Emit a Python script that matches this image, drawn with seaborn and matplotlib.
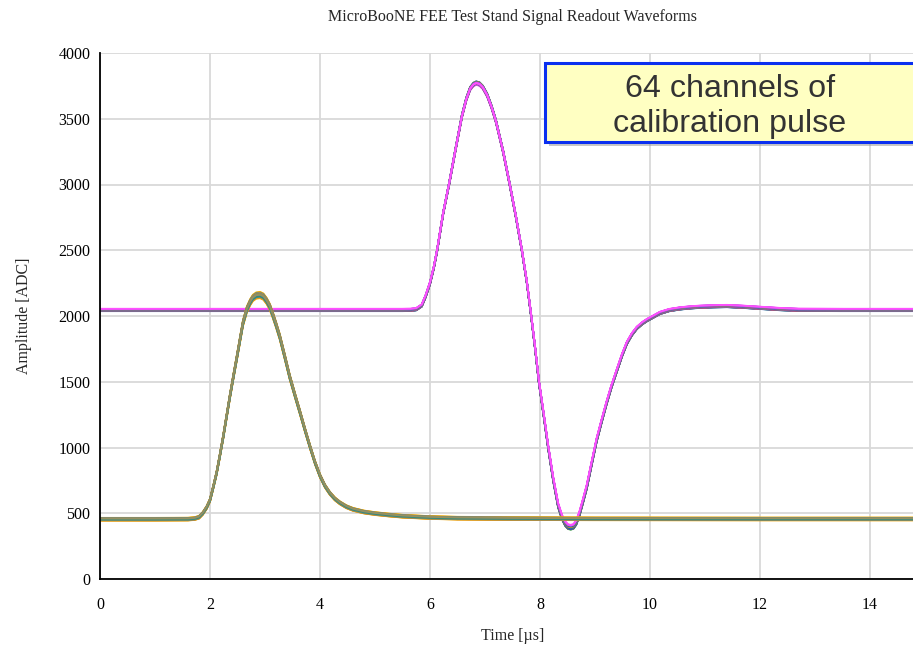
import numpy as np
import pandas as pd
import seaborn as sns
import matplotlib
matplotlib.use("Agg")
import matplotlib.pyplot as plt
from matplotlib.patches import Rectangle

# Averaged calibration-pulse waveform of the high-baseline channel group (time in us, ADC counts)
t_high = [0.0, 2.0, 4.0, 5.5, 5.65, 5.75, 5.85, 5.92, 6.0, 6.07, 6.13, 6.24, 6.35, 6.47, 6.58,
          6.66, 6.73, 6.79, 6.84, 6.9, 6.96, 7.04, 7.12, 7.2, 7.33, 7.45, 7.56, 7.67, 7.76,
          7.84, 7.91, 7.98, 8.07, 8.15, 8.24, 8.33, 8.4, 8.46, 8.51, 8.56, 8.61, 8.66, 8.72,
          8.78, 8.85, 8.94, 9.03, 9.12, 9.21, 9.3, 9.4, 9.49, 9.58, 9.67, 9.76, 9.86, 9.95,
          10.06, 10.18, 10.35, 10.55, 10.75, 10.9, 11.15, 11.4, 11.7, 12.0, 12.35, 12.7, 13.5, 15.0]
a_high = [2046, 2046, 2046, 2046, 2047, 2052, 2080, 2150, 2250, 2370, 2500, 2783, 3010, 3280, 3520,
          3650, 3730, 3762, 3772, 3765, 3740, 3680, 3590, 3480, 3250, 3000, 2760, 2500, 2260,
          2000, 1760, 1500, 1240, 1000, 760, 560, 470, 420, 398, 393, 400, 430, 500,
          590, 700, 880, 1057, 1200, 1338, 1465, 1589, 1700, 1795, 1860, 1909, 1945, 1970,
          1995, 2023, 2045, 2058, 2066, 2070, 2074, 2076, 2070, 2062, 2053, 2047, 2046, 2046]

# Averaged waveform of the low-baseline channel group
t_low = [0.0, 1.0, 1.6, 1.72, 1.8, 1.87, 1.94, 2.0, 2.06, 2.12, 2.18, 2.24, 2.3, 2.36, 2.43,
         2.49, 2.55, 2.6, 2.67, 2.73, 2.78, 2.84, 2.91, 2.97, 3.03, 3.09, 3.14, 3.2, 3.27, 3.36,
         3.45, 3.55, 3.64, 3.73, 3.82, 3.91, 4.0, 4.09, 4.18, 4.27, 4.36, 4.48, 4.6, 4.8,
         5.0, 5.25, 5.5, 6.0, 6.5, 7.5, 9.0, 12.0, 15.0]
a_low = [455, 455, 456, 460, 470, 500, 545, 600, 700, 806, 940, 1080, 1232, 1384, 1550,
         1688, 1830, 1947, 2050, 2105, 2138, 2156, 2160, 2148, 2115, 2068, 2010, 1935, 1840, 1690,
         1536, 1390, 1262, 1130, 1004, 885, 785, 708, 652, 610, 580, 550, 530, 510,
         498, 487, 478, 468, 463, 460, 458, 457, 457]

# Per-channel baseline offsets [ADC] and relative pulse gains
high_offsets = [-9, -8, -8, -7, -7, -6, -5, -5, -4, -4, -3, -3, -2, -2, -1, -1,
                0, 0, 1, 1, 2, 2, 3, 3, 4, 5, 5, 6, 7, 7, 8, 9]
high_gains = [1.004, 0.998, 1.006, 1.001, 0.996, 1.005, 1.000, 0.997, 1.006, 0.999,
              1.002, 0.995, 1.004, 1.001, 0.998, 1.003, 0.996, 1.005, 1.000, 0.997,
              1.006, 0.999, 1.002, 0.996, 1.004, 0.998, 1.003, 1.000, 0.995, 0.999,
              0.997, 0.994]
low_offsets = [-11, 10, -10, 9, -9, 8, -8, 7, 6, -7, 5, -6, 4, -5, 3, -4,
               2, -3, 1, -2, 0, -1, 5, -4, 3, -2, 1, 0, -1, 2, -3, 4]
low_gains = [0.992, 1.008, 0.994, 1.006, 0.996, 1.004, 0.998, 1.003, 1.006, 0.997,
             1.004, 0.999, 1.002, 0.995, 1.004, 1.001, 0.998, 1.003, 0.996, 1.005,
             1.000, 0.997, 1.006, 0.999, 1.002, 0.996, 1.004, 0.998, 1.003, 1.000,
             0.995, 0.999]

high_colors = ["#1f3fd0", "#0f8f6f", "#2c9f2c", "#3050e0", "#d030d0", "#e09020",
               "#ff40ff", "#d04040", "#1f3fd0", "#2c9f2c", "#008b8b", "#ee55ee",
               "#3050e0", "#e09020", "#2c9f2c", "#ff40ff", "#1f3fd0", "#d04040",
               "#2c9f2c", "#ee55ee", "#008b8b", "#3050e0", "#ff40ff", "#2c9f2c",
               "#1f3fd0", "#ee55ee", "#e09020", "#2c9f2c", "#ff40ff", "#3050e0",
               "#ee55ee", "#ff50ff"]
low_colors = ["#f0a800", "#f0b000", "#e8a010", "#e8a818", "#e09020", "#e8a010",
              "#d09830", "#c89a40", "#2a8a8a", "#9a9060", "#e08878", "#8f8a5a",
              "#2a8a8a", "#9a9060", "#c08060", "#8f8a5a", "#3a8f80", "#9a9060",
              "#e08878", "#8f8a5a", "#2a8a8a", "#9a9060", "#a08a60", "#8f8a5a",
              "#2a8a8a", "#9a9060", "#8f8a5a", "#c08870", "#9a9060", "#8a8a60",
              "#2f8a80", "#969060"]

# Long-form table of all 64 channels
base_high, base_low = 2046, 455
frames = []
for i, (off, g) in enumerate(zip(high_offsets, high_gains)):
    a = np.asarray(a_high, float)
    frames.append(pd.DataFrame({"t": t_high, "adc": base_high + off + g * (a - base_high),
                                "channel": f"ch{i:02d}"}))
for i, (off, g) in enumerate(zip(low_offsets, low_gains)):
    a = np.asarray(a_low, float)
    frames.append(pd.DataFrame({"t": t_low, "adc": base_low + off + g * (a - base_low),
                                "channel": f"ch{i + 32:02d}"}))
df = pd.concat(frames, ignore_index=True)

sns.set_style("white")
plt.rcParams["font.family"] = ["Liberation Serif", "DejaVu Serif"]

W, H = 913, 646
fig = plt.figure(figsize=(W / 100, H / 100), dpi=100)
ax = fig.add_axes([100 / W, 67 / H, 825 / W, 526 / H])

ax.grid(True, color="#d9d9d9", lw=1.3)
ax.set_axisbelow(True)

sns.lineplot(data=df, x="t", y="adc", hue="channel", palette=high_colors + low_colors,
             legend=False, estimator=None, sort=False, lw=1.3, ax=ax)

ax.set_xlim(0, 15)
ax.set_ylim(0, 4000)
ax.set_xticks(np.arange(0, 15, 2))
ax.set_yticks(np.arange(0, 4001, 500))
ax.tick_params(direction="in", length=6, width=1, labelsize=11.5, colors="black")
ax.tick_params(axis="x", pad=13)
ax.tick_params(axis="y", pad=7)
for s in ["top", "right"]:
    ax.spines[s].set_visible(False)
for s in ["left", "bottom"]:
    ax.spines[s].set_color("black")
    ax.spines[s].set_linewidth(1.3)

ax.set_xlabel("Time [µs]", fontsize=11.5, labelpad=11)
ax.set_ylabel("Amplitude [ADC]", fontsize=11.5, labelpad=19)

fig.text(512 / W, 1 - 17 / H, "MicroBooNE FEE Test Stand Signal Readout Waveforms",
         ha="center", va="center", fontsize=11.5)

# Annotation box
def fx(px):
    return px / W

def fy(py):
    return 1 - py / H

fig.patches.append(Rectangle((fx(549), fy(146)), fx(400), (142 - 63) / H,
                             transform=fig.transFigure, facecolor="#9a9a9a",
                             edgecolor="none", alpha=0.55, zorder=5))
fig.patches.append(Rectangle((fx(545), fy(142)), fx(400), (142 - 63) / H,
                             transform=fig.transFigure, facecolor="#ffffc2",
                             edgecolor="#0a2ff0", lw=2.2, zorder=6))
for txt, py in [("64 channels of", 97), ("calibration pulse", 132)]:
    fig.text(fx(730), fy(py), txt, ha="center", va="baseline", fontsize=23.2,
             color="#333333", family=["Liberation Sans", "DejaVu Sans"], zorder=7)

fig.savefig("out.png", dpi=100)
